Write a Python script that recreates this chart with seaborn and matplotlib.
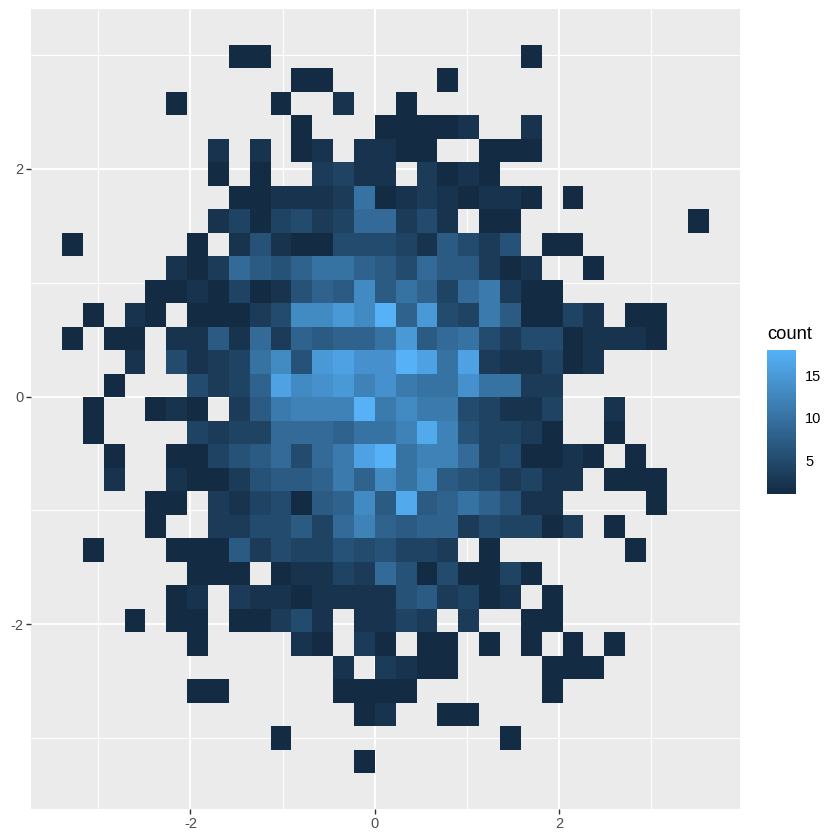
import numpy as np
import pandas as pd
import matplotlib
matplotlib.use("Agg")
import matplotlib.pyplot as plt
from matplotlib.colors import LinearSegmentedColormap
import seaborn as sns

# counts per bin, top row first, 31 bins left to right, 0 = empty bin
row_00 = [0,0,0,0,0,0,0,0,1,1,0,0,0,0,0,0,0,0,0,0,0,0,1,0,0,0,0,0,0,0,0]
row_01 = [0,0,0,0,0,0,0,0,0,0,0,1,1,0,0,0,0,0,1,0,0,0,0,0,0,0,0,0,0,0,0]
row_02 = [0,0,0,0,0,1,0,0,0,0,1,0,0,2,0,0,1,0,0,0,0,0,0,0,0,0,0,0,0,0,0]
row_03 = [0,0,0,0,0,0,0,0,0,0,0,1,0,0,0,1,1,1,1,2,0,0,2,0,0,0,0,0,0,0,0]
row_04 = [0,0,0,0,0,0,0,2,0,2,0,1,2,0,2,2,1,1,0,0,1,1,1,0,0,0,0,0,0,0,0]
row_05 = [0,0,0,0,0,0,0,1,0,1,0,0,3,4,2,2,0,3,1,2,1,0,0,0,0,0,0,0,0,0,0]
row_06 = [0,0,0,0,0,0,0,0,1,1,2,2,2,3,10,1,2,3,2,1,2,2,1,0,1,0,0,0,0,0,0]
row_07 = [0,0,0,0,0,0,0,2,4,1,4,5,3,4,9,9,3,5,2,0,1,1,0,0,0,0,0,0,0,0,1]
row_08 = [1,0,0,0,0,0,1,0,2,6,2,1,1,5,5,5,4,2,7,5,3,6,0,1,1,0,0,0,0,0,0]
row_09 = [0,0,0,0,0,2,1,3,9,7,6,8,10,10,8,7,5,9,7,7,3,1,2,0,0,1,0,0,0,0,0]
row_10 = [0,0,0,0,1,1,2,1,4,1,2,6,8,7,13,7,10,8,4,9,11,3,1,1,0,0,0,0,0,0,0]
row_11 = [0,1,0,2,1,0,1,1,1,3,5,13,13,15,13,18,8,15,5,4,11,7,1,1,4,2,0,1,1,0,0]
row_12 = [1,0,1,1,0,2,2,7,2,9,3,8,7,8,8,10,15,7,9,10,5,3,5,5,1,2,2,2,1,0,0]
row_13 = [0,0,0,2,0,5,2,3,4,10,13,6,15,16,14,14,18,16,10,16,3,2,2,4,1,2,0,0,0,0,0]
row_14 = [0,0,1,0,0,0,5,3,4,8,16,13,14,15,12,14,11,10,10,14,10,10,3,3,0,0,0,0,0,0,0]
row_15 = [0,1,0,0,1,2,1,0,3,7,11,12,12,12,18,11,13,11,11,5,4,2,2,4,0,0,2,0,0,0,0]
row_16 = [0,1,0,0,0,0,4,3,4,4,9,9,9,8,10,10,12,17,12,6,4,4,3,1,0,0,1,0,0,0,0]
row_17 = [0,0,1,0,0,1,1,4,6,7,9,5,9,11,16,18,10,12,12,9,4,5,1,1,2,1,0,1,0,0,0]
row_18 = [0,0,2,0,0,2,1,1,3,6,7,7,8,11,8,13,10,13,7,6,5,3,4,2,2,0,1,1,1,0,0]
row_19 = [0,0,0,0,1,1,0,3,2,4,5,1,7,8,13,7,17,7,8,10,8,6,2,2,0,0,0,0,1,0,0]
row_20 = [0,0,0,0,1,0,0,3,3,5,5,7,4,9,12,8,7,8,8,3,5,4,4,1,3,0,1,0,0,0,0]
row_21 = [0,1,0,0,0,1,1,1,7,3,5,4,4,6,5,6,4,4,3,0,1,0,0,0,0,0,0,1,0,0,0]
row_22 = [0,0,0,0,0,0,1,1,1,0,1,2,2,4,3,9,6,1,5,1,1,4,1,0,0,0,0,0,0,0,0]
row_23 = [0,0,0,0,0,1,2,0,3,2,2,1,2,2,2,2,6,7,3,4,1,2,0,1,0,0,0,0,0,0,0]
row_24 = [0,0,0,1,0,1,1,0,1,1,3,5,2,0,2,2,4,3,0,3,0,0,1,1,0,0,0,0,0,0,0]
row_25 = [0,0,0,0,0,0,1,0,0,0,0,2,1,0,3,1,0,1,1,0,1,0,1,0,1,0,1,0,0,0,0]
row_26 = [0,0,0,0,0,0,0,0,0,0,0,0,0,2,0,3,2,1,1,0,0,0,0,1,1,1,0,0,0,0,0]
row_27 = [0,0,0,0,0,0,1,1,0,0,0,0,0,1,1,1,1,0,0,0,0,0,0,1,0,0,0,0,0,0,0]
row_28 = [0,0,0,0,0,0,0,0,0,0,0,0,0,0,1,2,0,0,1,1,0,0,0,0,0,0,0,0,0,0,0]
row_29 = [0,0,0,0,0,0,0,0,0,0,1,0,0,0,0,0,0,0,0,0,0,1,0,0,0,0,0,0,0,0,0]
row_30 = [0,0,0,0,0,0,0,0,0,0,0,0,0,0,1,0,0,0,0,0,0,0,0,0,0,0,0,0,0,0,0]

rows = [row_00, row_01, row_02, row_03, row_04, row_05, row_06, row_07, row_08, row_09,
        row_10, row_11, row_12, row_13, row_14, row_15, row_16, row_17, row_18, row_19,
        row_20, row_21, row_22, row_23, row_24, row_25, row_26, row_27, row_28, row_29, row_30]

x_major = [-2, 0, 2]
x_minor = [-3, -1, 1, 3]
y_major = [-2, 0, 2]
y_minor = [-3, -1, 1, 3]
x_labels = ["-2", "0", "2"]
y_labels = ["-2", "0", "2"]
bar_ticks = [5, 10, 15]

# bin grid
x_edges = np.linspace(-3.394, 3.626, 32)
y_edges = np.linspace(3.087, -3.305, 32)[::-1]

x_mid = (x_edges[:-1] + x_edges[1:]) / 2
y_mid = ((y_edges[:-1] + y_edges[1:]) / 2)[::-1]

xx, yy = np.meshgrid(x_mid, y_mid)
df = pd.DataFrame({"x": xx.ravel(), "y": yy.ravel(), "count": np.array(rows).ravel()})

sns.set_style("darkgrid", {"axes.facecolor": "#EBEBEB", "grid.color": "white"})
plt.rcParams["font.family"] = ["Liberation Sans", "DejaVu Sans"]

size = 840
fig = plt.figure(figsize=(8.4, 8.4), dpi=100)
ax = fig.add_axes([31 / size, 1 - 809 / size, 709 / size, 800 / size])
cax = fig.add_axes([767 / size, 1 - 494 / size, 29 / size, 144 / size])

ggcmap = LinearSegmentedColormap.from_list("gg", ["#132B43", "#56B1F7"])

sns.histplot(data=df, x="x", y="y", weights="count", bins=[x_edges, y_edges], thresh=0,
             cmap=ggcmap, vmin=1, vmax=18, cbar=True, cbar_ax=cax, ax=ax)

ax.set_xlim(-3.731, 3.967)
ax.set_ylim(-3.621, 3.403)
ax.set_xlabel("")
ax.set_ylabel("")
ax.set_xticks(x_major)
ax.set_xticklabels(x_labels)
ax.set_yticks(y_major)
ax.set_yticklabels(y_labels)
ax.set_xticks(x_minor, minor=True)
ax.set_yticks(y_minor, minor=True)
ax.set_axisbelow(True)
ax.grid(which="major", color="white", linewidth=1.4)
ax.grid(which="minor", color="white", linewidth=0.75)
ax.tick_params(which="major", bottom=True, left=True, length=3.4, width=1.0, color="#333333",
               labelsize=10.5, labelcolor="#4D4D4D", pad=2)
ax.tick_params(which="minor", bottom=False, left=False)
for s in ax.spines.values():
    s.set_visible(False)

cbar = ax.collections[0].colorbar
cbar.set_ticks(bar_ticks)
cbar.outline.set_visible(False)
cax.tick_params(axis="y", which="major", left=True, right=True, labelleft=False, labelright=True,
                direction="in", length=4.1, width=0.6, color="white", labelsize=10.5,
                labelcolor="black", pad=6.5)
cax.minorticks_off()

fig.text(767 / size, 1 - 339 / size, "count", fontsize=13.2, color="black", va="baseline")

fig.savefig("out.png", dpi=100)
